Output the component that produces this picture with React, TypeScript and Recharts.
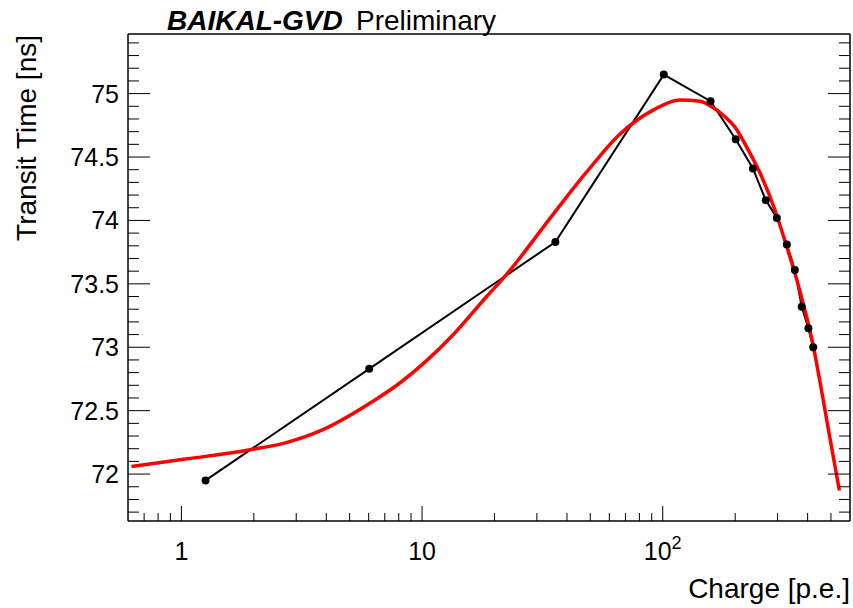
import { LineChart, Line, XAxis, YAxis } from "recharts";

// PMT transit time vs. charge: measured points and fitted curve
const measChargePe = [1.26, 6.03, 35.8, 101, 158, 201, 237, 268, 298, 328, 354, 378, 403, 422];
const measTimeNs = [71.95, 72.83, 73.83, 75.15, 74.94, 74.64, 74.41, 74.16, 74.02, 73.81, 73.61, 73.32, 73.15, 73.0];

const fitChargePe = [
  0.62, 1.06, 1.9, 2.75, 3.77, 6.09, 8.11, 13.49, 18.55, 22.46, 35.1, 48.2, 66.3, 91.2,
  117.7, 142.5, 161.8, 180.8, 199, 226, 257, 291.5, 320.7, 367, 419, 452, 485, 542,
];
const fitTimeNs = [
  72.06, 72.12, 72.19, 72.25, 72.34, 72.56, 72.72, 73.1, 73.4, 73.575, 74.05, 74.38, 74.68, 74.87,
  74.95, 74.94, 74.89, 74.82, 74.74, 74.56, 74.35, 74.09, 73.85, 73.48, 73.04, 72.71, 72.38, 71.87,
];

const xMajorTicks = [1, 10, 100];
const xMajorBase = ["1", "10", "10"];
const xMajorExp = ["", "", "2"];
const xMinorTicks = [0.7, 0.8, 0.9, 2, 3, 4, 5, 6, 7, 8, 9, 20, 30, 40, 50, 60, 70, 80, 90, 200, 300, 400, 500];

const yMajorTicks = [72, 72.5, 73, 73.5, 74, 74.5, 75];
const yMinorTicks = [
  71.7, 71.8, 71.9, 72.1, 72.2, 72.3, 72.4, 72.6, 72.7, 72.8, 72.9, 73.1, 73.2, 73.3, 73.4,
  73.6, 73.7, 73.8, 73.9, 74.1, 74.2, 74.3, 74.4, 74.6, 74.7, 74.8, 74.9, 75.1, 75.2, 75.3, 75.4,
];

const xDomain = [0.6, 600];
const yDomain = [71.63, 75.47];

const measured = measChargePe.map((x, i) => ({ x, y: measTimeNs[i] }));
const fit = fitChargePe.map((x, i) => ({ x, y: fitTimeNs[i] }));

const xTicks = [...xMajorTicks, ...xMinorTicks];
const yTicks = [...yMajorTicks, ...yMinorTicks];

const FONT = "'Liberation Sans', Arial, Helvetica, sans-serif";
const frame = { stroke: "#000", strokeWidth: 1.5 };

// ROOT-style ticks: drawn inward from the frame, labels only on majors
function BottomTick({ x, y, payload }: any) {
  const i = xMajorTicks.indexOf(payload.value);
  const len = i >= 0 ? 15 : 8;
  return (
    <g>
      <line x1={x} x2={x} y1={y} y2={y - len} stroke="#000" strokeWidth={1} />
      {i >= 0 && (
        <text x={x} y={y + 39} textAnchor="middle" fontSize={25} fontFamily={FONT} fill="#000">
          {xMajorBase[i]}
          {xMajorExp[i] && (
            <tspan dy={-11} fontSize={18}>
              {xMajorExp[i]}
            </tspan>
          )}
        </text>
      )}
    </g>
  );
}

function TopTick({ x, y, payload }: any) {
  const len = xMajorTicks.includes(payload.value) ? 15 : 8;
  return <line x1={x} x2={x} y1={y} y2={y + len} stroke="#000" strokeWidth={1} />;
}

function LeftTick({ x, y, payload }: any) {
  const major = yMajorTicks.includes(payload.value);
  return (
    <g>
      <line x1={x} x2={x + (major ? 22 : 11)} y1={y} y2={y} stroke="#000" strokeWidth={1} />
      {major && (
        <text x={x - 9} y={y + 9} textAnchor="end" fontSize={25} fontFamily={FONT} fill="#000">
          {String(payload.value)}
        </text>
      )}
    </g>
  );
}

function RightTick({ x, y, payload }: any) {
  const len = yMajorTicks.includes(payload.value) ? 22 : 11;
  return <line x1={x} x2={x - len} y1={y} y2={y} stroke="#000" strokeWidth={1} />;
}

export default function App() {
  return (
    <div style={{ position: "absolute", left: 0, top: 0, width: 853, height: 608, background: "#fff" }}>
      <LineChart width={853} height={608} margin={{ top: 33, right: 2, bottom: 86, left: 127 }}>
        <XAxis
          dataKey="x"
          type="number"
          scale="log"
          domain={xDomain}
          allowDataOverflow
          ticks={xTicks}
          interval={0}
          height={1}
          tickSize={0}
          tickMargin={0}
          tickLine={false}
          axisLine={frame}
          tick={<BottomTick />}
        />
        <XAxis
          xAxisId="top"
          orientation="top"
          type="number"
          scale="log"
          domain={xDomain}
          allowDataOverflow
          ticks={xTicks}
          interval={0}
          height={1}
          tickSize={0}
          tickMargin={0}
          tickLine={false}
          axisLine={frame}
          tick={<TopTick />}
        />
        <YAxis
          type="number"
          domain={yDomain}
          allowDataOverflow
          ticks={yTicks}
          interval={0}
          width={1}
          tickSize={0}
          tickMargin={0}
          tickLine={false}
          axisLine={frame}
          tick={<LeftTick />}
        />
        <YAxis
          yAxisId="right"
          orientation="right"
          type="number"
          domain={yDomain}
          allowDataOverflow
          ticks={yTicks}
          interval={0}
          width={1}
          tickSize={0}
          tickMargin={0}
          tickLine={false}
          axisLine={frame}
          tick={<RightTick />}
        />
        <Line
          data={measured}
          dataKey="y"
          type="linear"
          stroke="#000"
          strokeWidth={2}
          dot={{ r: 4, fill: "#000", stroke: "none" }}
          isAnimationActive={false}
        />
        <Line
          data={fit}
          dataKey="y"
          type="monotone"
          stroke="#ff0000"
          strokeWidth={3.5}
          dot={false}
          isAnimationActive={false}
        />
      </LineChart>
      <svg
        width={853}
        height={608}
        style={{ position: "absolute", left: 0, top: 0, pointerEvents: "none" }}
        fontFamily={FONT}
      >
        <text x={167} y={30} fontSize={28} fontWeight="bold" fontStyle="italic" fill="#000">
          BAIKAL-GVD
        </text>
        <text x={356} y={30} fontSize={28} fill="#000">
          Preliminary
        </text>
        <text x={850} y={598} fontSize={28} textAnchor="end" fill="#000">
          Charge [p.e.]
        </text>
        <text
          x={36}
          y={35}
          fontSize={28}
          textAnchor="end"
          transform="rotate(-90 36 35)"
          fill="#000"
        >
          Transit Time [ns]
        </text>
      </svg>
    </div>
  );
}
